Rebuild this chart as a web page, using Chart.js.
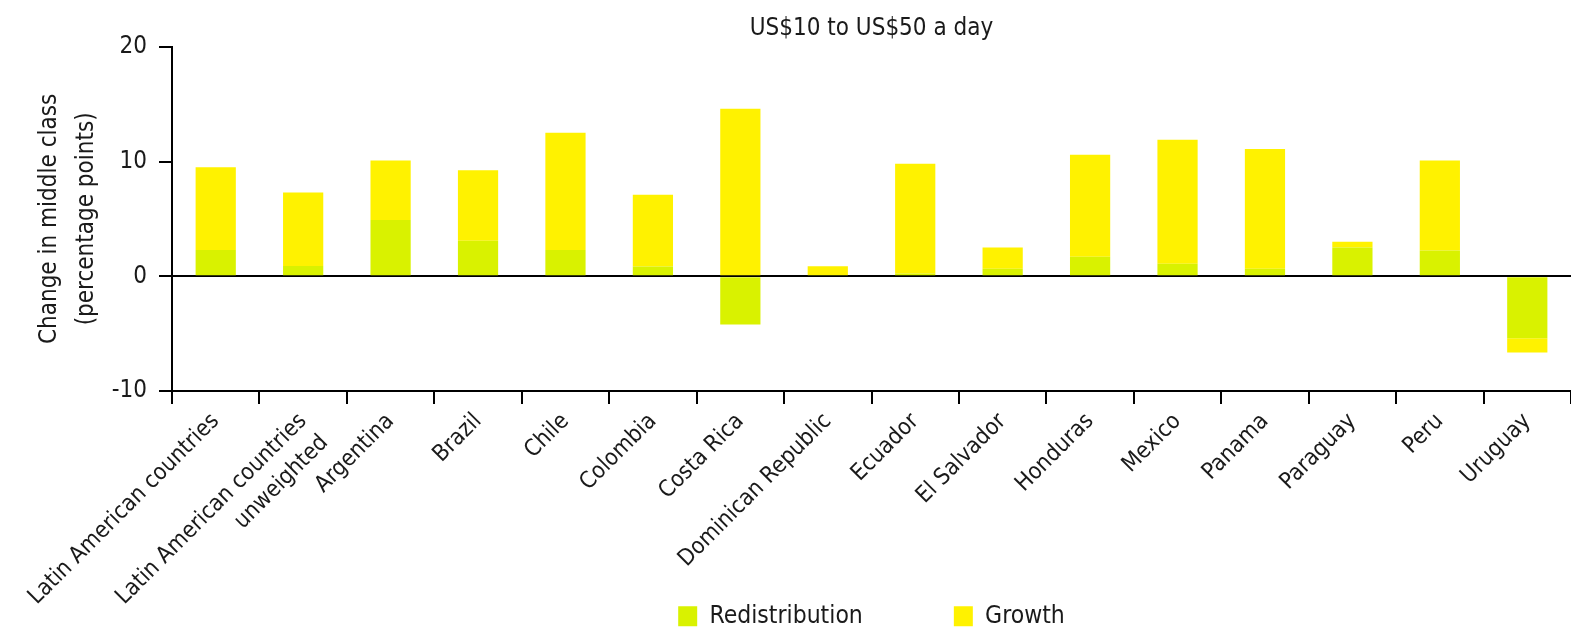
<!DOCTYPE html>
<html>
<head>
<meta charset="utf-8">
<script src="https://cdn.jsdelivr.net/npm/chart.js@4"></script>
<style>
  body { margin: 0; background: #fff; }
</style>
</head>
<body>
<canvas id="chartMiddle" width="1571" height="629"></canvas>
<script>
var countries = ['Latin American countries', ['Latin American countries', 'unweighted'], 'Argentina', 'Brazil',
  'Chile', 'Colombia', 'Costa Rica', 'Dominican Republic', 'Ecuador', 'El Salvador', 'Honduras',
  'Mexico', 'Panama', 'Paraguay', 'Peru', 'Uruguay'];
var redistribution = [2.3, 0.9, 4.9, 3.1, 2.3, 0.85, -4.2, 0.1, 0.25, 0.65, 1.7, 1.1, 0.65, 2.5, 2.25, -5.4];
var growth = [7.2, 6.4, 5.2, 6.15, 10.2, 6.25, 14.6, 0.77, 9.55, 1.85, 8.9, 10.8, 10.45, 0.5, 7.85, -1.25];
var yTicks = [-10, 0, 10, 20];

var font = "'DejaVu Sans Condensed', 'Liberation Sans Narrow', 'Liberation Sans', sans-serif";
var ink = '#1a1a1a';

// title and legend are centred on the plot area, legend sits at the bottom edge
var centerOnPlot = {
  id: 'centerOnPlot',
  afterLayout: function (chart) {
    var a = chart.chartArea;
    [chart.titleBlock, chart.legend].forEach(function (b) {
      if (!b) return;
      b.left = a.left;
      b.right = a.right;
      b.width = a.right - a.left;
    });
    var lg = chart.legend;
    var pad = lg.options.labels.padding;
    lg.top = chart.height - 25 - pad;
    lg.bottom = chart.height;
  }
};

var ctx = document.getElementById('chartMiddle').getContext('2d');
var chart = new Chart(ctx, {
  type: 'bar',
  data: {
    labels: countries,
    datasets: [{
        label: 'Redistribution',
        backgroundColor: '#d9f200',
        borderWidth: 0,
        data: redistribution
    }, {
        label: 'Growth',
        backgroundColor: '#fff200',
        borderWidth: 0,
        data: growth
    }]
  },
  options: {
    responsive: false,
    animation: false,
    layout: { padding: 0 },
    datasets: { bar: { barPercentage: 0.46, categoryPercentage: 1 } },
    plugins: {
      title: {
        display: true,
        text: 'US$10 to US$50 a day',
        color: ink,
        font: { family: font, size: 24, weight: 'normal', lineHeight: 1.2 },
        padding: { top: 14, bottom: 4 }
      },
      legend: {
        position: 'bottom',
        maxHeight: 1,
        labels: {
          color: ink,
          boxWidth: 19,
          boxHeight: 20,
          padding: 91,
          font: { family: font, size: 24.5 }
        }
      },
      tooltip: { enabled: false }
    },
    scales: {
      x: {
        stacked: true,
        afterFit: function (s) { s.height = 237; s.paddingLeft = 0; s.paddingRight = 0; },
        grid: { drawOnChartArea: false, tickColor: '#000', tickLength: 13, lineWidth: 2 },
        border: { color: '#000', width: 2 },
        ticks: {
          color: ink,
          autoSkip: false,
          minRotation: 45,
          maxRotation: 45,
          padding: 3,
          font: { family: font, size: 23, lineHeight: 1.32 }
        }
      },
      y: {
        stacked: true,
        min: -10,
        max: 20,
        afterFit: function (s) { s.width = 172; },
        afterBuildTicks: function (s) { s.ticks = yTicks.map(function (v) { return { value: v }; }); },
        grid: {
          color: function (c) { return c.tick && c.tick.value === 0 ? '#000' : 'transparent'; },
          tickColor: '#000',
          tickLength: 13,
          lineWidth: 2
        },
        border: { color: '#000', width: 2 },
        ticks: {
          color: ink,
          padding: 12,
          font: { family: font, size: 24 }
        },
        title: {
          display: true,
          text: ['Change in middle class', '(percentage points)'],
          color: ink,
          padding: { top: 31, bottom: 0 },
          font: { family: font, size: 24, lineHeight: 1.54 }
        }
      }
    }
  },
  plugins: [centerOnPlot]
});
</script>
</body>
</html>
